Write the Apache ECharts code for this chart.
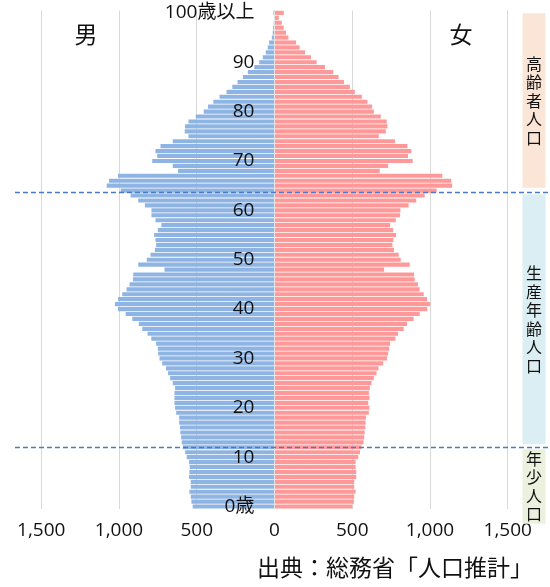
<!DOCTYPE html>
<html>
<head>
<meta charset="utf-8">
<title>人口ピラミッド</title>
<script src="https://cdn.jsdelivr.net/npm/echarts@6/dist/echarts.min.js"></script>
<style>
  html, body { margin: 0; padding: 0; background: #fff; }
  #chart { width: 550px; height: 587px; }
</style>
</head>
<body>
<div id="chart"></div>
<script>
// 年齢 (0歳 〜 100歳以上)
const AGES = [
  '0歳', '1', '2', '3', '4', '5', '6', '7', '8', '9',
  '10', '11', '12', '13', '14', '15', '16', '17', '18', '19',
  '20', '21', '22', '23', '24', '25', '26', '27', '28', '29',
  '30', '31', '32', '33', '34', '35', '36', '37', '38', '39',
  '40', '41', '42', '43', '44', '45', '46', '47', '48', '49',
  '50', '51', '52', '53', '54', '55', '56', '57', '58', '59',
  '60', '61', '62', '63', '64', '65', '66', '67', '68', '69',
  '70', '71', '72', '73', '74', '75', '76', '77', '78', '79',
  '80', '81', '82', '83', '84', '85', '86', '87', '88', '89',
  '90', '91', '92', '93', '94', '95', '96', '97', '98', '99',
  '100歳以上'
]

// 男 (千人), 0歳から
const MALE = [
  526, 534, 538, 547, 538, 538, 549, 547, 545, 549,
  564, 574, 589, 596, 600, 605, 607, 613, 613, 632,
  639, 643, 643, 643, 639, 654, 671, 684, 697, 722,
  739, 748, 750, 761, 792, 816, 850, 872, 914, 957,
  1006, 1026, 1006, 979, 951, 932, 910, 908, 707, 876,
  821, 797, 769, 761, 765, 774, 750, 727, 765, 791,
  791, 833, 876, 925, 989, 1079, 1064, 1006, 620, 654,
  786, 754, 765, 733, 654, 553, 577, 575, 553, 506,
  455, 427, 393, 353, 308, 271, 237, 203, 171, 130,
  98, 75, 56, 43, 34, 17, 11, 8, 5, 3,
  6
]

// 女 (千人), 0歳から
const FEMALE = [
  500, 511, 513, 522, 513, 513, 526, 526, 522, 522,
  539, 550, 560, 573, 577, 580, 584, 586, 588, 607,
  611, 603, 611, 607, 613, 624, 639, 656, 669, 699,
  724, 731, 737, 744, 778, 795, 831, 853, 895, 934,
  983, 1002, 981, 960, 934, 923, 902, 898, 705, 870,
  812, 799, 769, 759, 765, 782, 763, 744, 780, 808,
  810, 863, 912, 966, 1043, 1143, 1137, 1079, 677, 731,
  889, 859, 880, 855, 775, 671, 716, 727, 722, 684,
  639, 628, 598, 562, 517, 485, 447, 412, 378, 325,
  271, 235, 197, 162, 139, 90, 75, 60, 47, 28,
  60
]

// 区分の境界線 (年齢の位置)
const BREAKS = [12.1, 63.65]

// 右側の区分 [名前, 上端の年齢, 下端の年齢, 色]
const GROUPS = [
  ['高齢者人口', 99.9, 64.6, '#fbe5d6'],
  ['生産年齢人口', 63.2, 12.6, '#daeef3'],
  ['年少人口', 11.6, -3.5, '#ebf1de']
]

const NUM_FONT = "'Open Sans', 'Noto Sans CJK JP', sans-serif"
const JP_FONT = "'Noto Sans CJK JP', sans-serif"

const GRID = {left: 41.2, right: 42.3, top: 10.4, bottom: 78}
const WIDTH = 550

const chart = echarts.init(document.getElementById('chart'))

const option = {
  animation: false,
  grid: {
    left: GRID.left,
    right: GRID.right,
    top: GRID.top,
    bottom: GRID.bottom,
    containLabel: false,
    outerBoundsMode: 'none'
  },
  xAxis: {
    type: 'value',
    min: -1500,
    max: 1500,
    interval: 500,
    axisLine: {show: false, onZero: false},
    axisTick: {show: false},
    splitLine: {lineStyle: {color: '#d9d9d9', width: 1}},
    axisLabel: {
      fontSize: 19,
      fontFamily: NUM_FONT,
      color: '#111',
      margin: 12,
      formatter: function (v) {
        return Math.abs(v).toLocaleString('en-US')
      }
    }
  },
  yAxis: {
    type: 'category',
    data: AGES,
    z: 5,
    // 年齢軸は中央 (0 の位置) に置く
    offset: -(WIDTH - GRID.left - GRID.right) / 2,
    axisLine: {onZero: false, lineStyle: {color: '#e4e4e4', width: 1}},
    axisTick: {show: false},
    axisLabel: {
      interval: function (index) {
        return index % 10 === 0
      },
      fontSize: 19,
      fontFamily: NUM_FONT,
      color: '#111',
      margin: 20
    }
  },
  series: [
    {
      name: '男',
      type: 'bar',
      stack: 'pop',
      barCategoryGap: '16%',
      itemStyle: {color: '#8eb4e3'},
      data: MALE.map(v => -v)
    },
    {
      name: '女',
      type: 'bar',
      stack: 'pop',
      barCategoryGap: '16%',
      itemStyle: {color: '#ff9999'},
      data: FEMALE
    }
  ]
}

chart.setOption(option)

// 年齢 -> 縦位置 (カテゴリ軸の帯の中心に合わせる)
function ageToY(age) {
  const h = chart.getHeight() - GRID.top - GRID.bottom
  return GRID.top + (AGES.length - 0.5 - age) / AGES.length * h
}

function drawNotes() {
  const graphic = []
  BREAKS.forEach(function (age) {
    const y = Math.round(ageToY(age)) + 0.5
    graphic.push({
      type: 'line',
      z: 10,
      shape: {x1: 15, y1: y, x2: 550, y2: y},
      style: {stroke: '#4a7bc4', lineWidth: 1.3, lineDash: [5, 3]}
    })
  })
  GROUPS.forEach(function (g) {
    const y1 = ageToY(g[1])
    const y2 = ageToY(g[2])
    graphic.push({
      type: 'rect',
      z: 1,
      shape: {x: 522.5, y: y1, width: 23, height: y2 - y1},
      style: {fill: g[3]}
    })
    graphic.push({
      type: 'text',
      z: 2,
      x: 534,
      y: (y1 + y2) / 2,
      style: {
        text: g[0].split('').join('\n'),
        fontSize: 16,
        lineHeight: 18.5,
        fontFamily: JP_FONT,
        fill: '#111',
        align: 'center',
        verticalAlign: 'middle',
        textAlign: 'center',
        textVerticalAlign: 'middle'
      }
    })
  })
  graphic.push({
    type: 'text', z: 10, x: 86, y: 34,
    style: {text: '男', fontSize: 23, fontFamily: JP_FONT, fill: '#111',
      align: 'center', verticalAlign: 'middle', textAlign: 'center', textVerticalAlign: 'middle'}
  })
  graphic.push({
    type: 'text', z: 10, x: 461, y: 34,
    style: {text: '女', fontSize: 23, fontFamily: JP_FONT, fill: '#111',
      align: 'center', verticalAlign: 'middle', textAlign: 'center', textVerticalAlign: 'middle'}
  })
  graphic.push({
    type: 'text', z: 10, x: 533, y: 567,
    style: {text: '出典：総務省「人口推計」', fontSize: 23, fontFamily: JP_FONT, fill: '#111',
      align: 'right', verticalAlign: 'middle', textAlign: 'right', textVerticalAlign: 'middle'}
  })
  chart.setOption({graphic: graphic})
}

drawNotes()

window.addEventListener('resize', function () {
  chart.resize()
  drawNotes()
})
</script>
</body>
</html>
